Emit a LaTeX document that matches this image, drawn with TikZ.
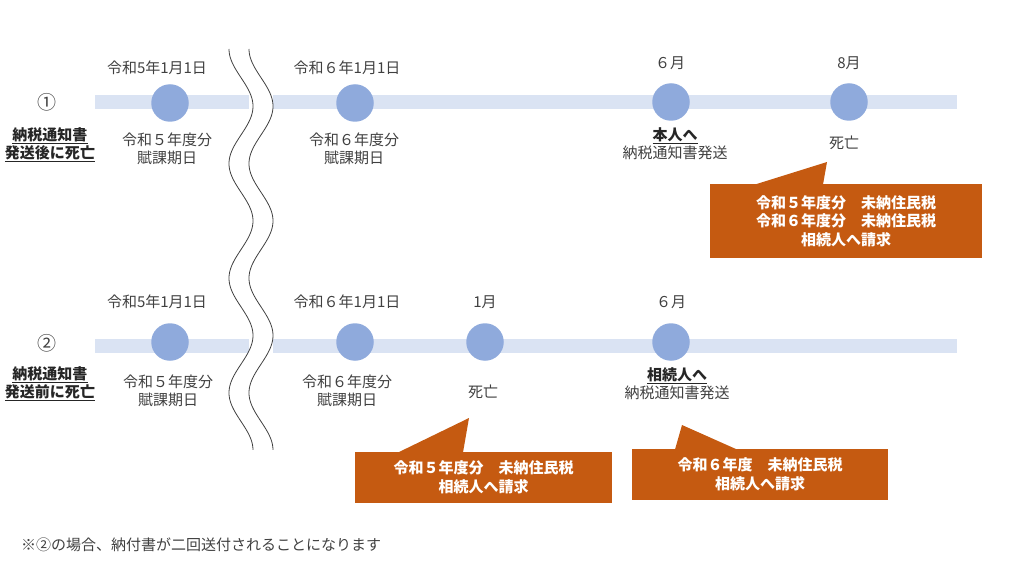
\documentclass[tikz,border=0pt]{standalone}
\usepackage{fontspec}
\setmainfont{Noto Sans CJK JP}
\definecolor{bandc}{HTML}{DAE3F3}
\definecolor{dotc}{HTML}{8FAADC}
\definecolor{callc}{HTML}{C55A11}
\definecolor{txt}{HTML}{404040}
\definecolor{txtb}{HTML}{262626}
\tikzset{
  lbl/.style={text=txt, font=\fontsize{15}{18}\selectfont, align=center, inner sep=0},
  blbl/.style={text=txtb, font=\bfseries\fontsize{15}{18}\selectfont, align=center, inner sep=0},
  dot/.style={circle, fill=dotc, minimum size=37.5, inner sep=0},
  callbox/.style={fill=callc, text=white, font=\bfseries\fontsize{15}{18.5}\selectfont, align=center, inner sep=0},
  calltail/.style={fill=callc},
  bandbar/.style={fill=bandc},
  wave/.style={draw=txt, line width=0.8pt},
}
\begin{document}
\begin{tikzpicture}[x=1pt,y=-1pt]
\useasboundingbox (0,0) rectangle (1030,580);
% bands
\fill[bandbar] (95,95) rectangle (249,109);
\fill[bandbar] (273,95) rectangle (957,109);
\fill[bandbar] (95,339) rectangle (249,353);
\fill[bandbar] (273,339) rectangle (957,353);
% wavy break lines
\draw[wave] plot[domain=0:7, samples=220, smooth] ({241-12*cos(180*\x)},{49+57.3*\x});
\draw[wave] plot[domain=0:7, samples=220, smooth] ({261-12*cos(180*\x)},{49+57.3*\x});
% row 1
\node[lbl] (n1) at (47,102) {\fontsize{19}{19}\selectfont ①};
\node[blbl] (k1) at (50,145) {\underline{納税通知書}\\\underline{発送後に死亡}};
\node[dot] (d1a) at (170,103) {};
\node[dot] (d1b) at (355,103) {};
\node[dot] (d1c) at (671,102) {};
\node[dot] (d1d) at (849,102) {};
\node[lbl] (t1a) at (157,68) {令和5年1月1日};
\node[lbl] (t1b) at (347,68) {令和６年1月1日};
\node[lbl] (t1c) at (670,63) {６月};
\node[lbl] (t1d) at (849,63) {8月};
\node[lbl] (b1a) at (167,148.5) {令和５年度分\\賦課期日};
\node[lbl] (b1b) at (354,148.5) {令和６年度分\\賦課期日};
\node[lbl] (b1c) at (675,144) {\textcolor{txtb}{\bfseries\underline{本人へ}}\\納税通知書発送};
\node[lbl] (b1d) at (844,143) {死亡};
% row 2
\node[lbl] (n2) at (47,343) {\fontsize{19}{19}\selectfont ②};
\node[blbl] (k2) at (50,383.5) {\underline{納税通知書}\\\underline{発送前に死亡}};
\node[dot] (d2a) at (170,342) {};
\node[dot] (d2b) at (355,342) {};
\node[dot] (d2c) at (485,342) {};
\node[dot] (d2d) at (671,342) {};
\node[lbl] (t2a) at (157,302) {令和5年1月1日};
\node[lbl] (t2b) at (347,302) {令和６年1月1日};
\node[lbl] (t2c) at (485,302) {1月};
\node[lbl] (t2d) at (671,302) {６月};
\node[lbl] (b2a) at (168,391) {令和５年度分\\賦課期日};
\node[lbl] (b2b) at (347,391) {令和６年度分\\賦課期日};
\node[lbl] (b2c) at (483,392) {死亡};
\node[lbl] (b2d) at (677,384) {\textcolor{txtb}{\bfseries\underline{相続人へ}}\\納税通知書発送};
% callouts
\node[callbox, minimum width=272, minimum height=74] (c1) at (846,221) {令和５年度分　未納住民税\\令和６年度分　未納住民税\\相続人へ請求};
\coordinate (c1tip) at (827,162);
\fill[calltail] (755,184.5) -- (c1tip) -- (823,184.5) -- cycle;
\node[callbox, minimum width=257, minimum height=51] (c2) at (483.5,477.5) {令和５年度分　未納住民税\\相続人へ請求};
\coordinate (c2tip) at (469,418);
\fill[calltail] (398,452.5) -- (c2tip) -- (463,452.5) -- cycle;
\node[callbox, minimum width=256, minimum height=51] (c3) at (760,474.5) {令和６年度　未納住民税\\相続人へ請求};
\coordinate (c3tip) at (682,425);
\fill[calltail] (675,449.5) -- (c3tip) -- (737,449.5) -- cycle;
% footnote
\node[lbl, anchor=west] (fn) at (21,545) {※②の場合、納付書が二回送付されることになります};
\end{tikzpicture}
\end{document}
